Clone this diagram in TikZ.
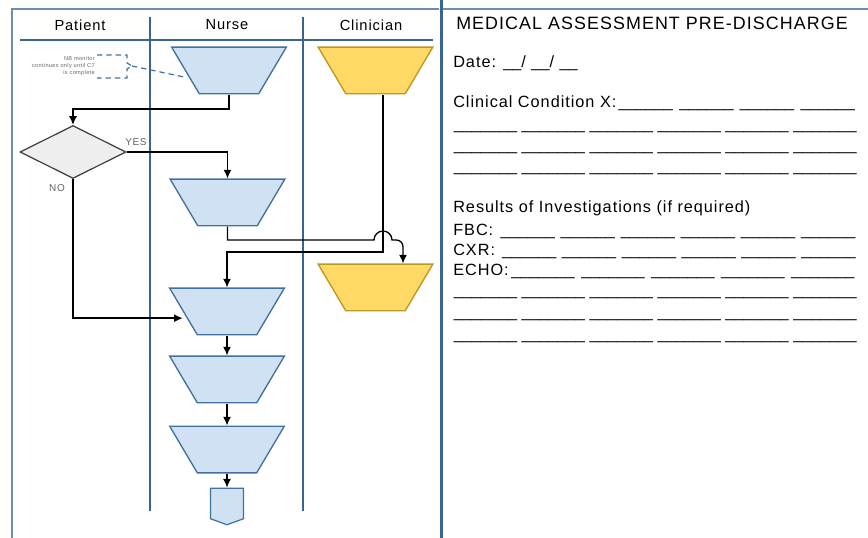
\documentclass[tikz,border=0pt]{standalone}
\usepackage{fontspec}
\setmainfont{Liberation Sans}[LetterSpace=6]
\newfontfamily\linefont{Liberation Sans}
\usetikzlibrary{shapes.geometric,shapes.symbols,arrows.meta}

\definecolor{nursefill}{RGB}{207,225,242}
\definecolor{nurseline}{RGB}{65,113,156}
\definecolor{clinfill}{RGB}{255,217,102}
\definecolor{clinline}{RGB}{191,150,30}
\definecolor{decfill}{RGB}{238,238,238}
\definecolor{decline}{RGB}{60,60,60}
\definecolor{laneblue}{RGB}{60,100,145}
\definecolor{framegray}{RGB}{110,140,175}
\definecolor{labelgray}{RGB}{100,100,100}

% blank lines of the form
\newcommand\us[1]{{\linefont\foreach\i in {1,...,#1}{\_}}}
\newcommand\formrow[2]{\makebox[306pt][l]{#1\xleaders\hbox{\us{#2}\hskip3pt}\hfill}}

\tikzset{
  nursestep/.style={trapezium, trapezium angle=65, shape border rotate=180,
    trapezium stretches=true, minimum width=86pt, minimum height=35pt,
    inner sep=1pt, draw=nurseline, fill=nursefill, line width=1pt},
  clinstep/.style={nursestep, draw=clinline, fill=clinfill},
  decision/.style={diamond, aspect=2, minimum width=79.5pt, minimum height=39.75pt,
    inner sep=1pt, draw=decline, fill=decfill, line width=0.9pt},
  offpage/.style={signal, signal to=south, signal pointer angle=140,
    minimum width=24.75pt, minimum height=23.25pt, inner sep=1pt,
    draw=nurseline, fill=nursefill, line width=0.9pt},
  flow/.style={draw=black, line width=1pt, -{Latex[length=6.5pt,width=6pt]}},
  lane/.style={draw=laneblue, line width=1.1pt},
  frame/.style={draw=framegray, line width=0.8pt},
  notelink/.style={draw=nurseline, line width=0.9pt, dash pattern=on 4pt off 3pt},
  formtext/.style={anchor=base west, inner sep=0pt, font=\fontsize{12.2}{14}\selectfont},
}

\begin{document}
\begin{tikzpicture}[x=0.75pt, y=-0.75pt]
    \useasboundingbox (0,0) rectangle (868,538);

    % Draw swimlanes
    \draw[frame] (12,545) -- (12,9) -- (439,9);
    \draw[frame] (442,9) -- (868,9);
    \draw[laneblue, line width=1.6pt] (441.5,0) -- (441.5,538);
    \draw[lane] (20,40) -- (433,40);
    \draw[lane] (150,17) -- (150,511);
    \draw[lane] (303,17) -- (303,511);

    \node[font=\fontsize{11}{13}\selectfont] (patienthd) at (80,25) {Patient};
    \node[font=\fontsize{11}{13}\selectfont] (nursehd) at (227,25) {Nurse};
    \node[font=\fontsize{11}{13}\selectfont] (clinhd) at (371,25) {Clinician};

    % Draw steps
    \node[nursestep] (n1) at (229,70.5) {};
    \node[clinstep] (c1) at (375.5,70.5) {};
    \node[decision] (dec) at (73,152) {};
    \node[nursestep] (n2) at (227.5,202.5) {};
    \node[clinstep] (c2) at (375.5,287.5) {};
    \node[nursestep] (n3) at (227,311.5) {};
    \node[nursestep] (n4) at (227,379.5) {};
    \node[nursestep] (n5) at (227,449.5) {};
    \node[offpage] (off) at (227,503.5) {};

    % Draw note
    \node[align=right, anchor=east, text=labelgray, inner sep=0pt,
      font=\fontsize{4.2}{5.4}\selectfont] (note) at (95,66)
      {NB monitor\\continues only until C7\\is complete};
    \coordinate (brace) at (132,66);
    \draw[notelink] (97,55) -- (127,55) -- (127,63) -- (brace) -- (127,69) -- (127,78) -- (97,78);
    \draw[notelink] (brace) -- ([yshift=-5pt]n1.west);

    % Draw connectors
    \coordinate (k1) at (73,109);
    \coordinate (k2) at (383,252);
    \coordinate (j1) at (374,240);
    \coordinate (j3) at (403,240);
    \draw[flow] (n1.south) |- (k1) -- (dec.north);
    \draw[flow] (dec.east) -| (n2.north);
    \draw[flow] (dec.south) |- ([yshift=-5pt]n3.west);
    \draw[flow] (n2.south) |- (j1) arc[start angle=180, end angle=360, radius=9]
      {[rounded corners=5pt] -- (j3) -- (c2.north -| j3)};
    \draw[flow] (c1.south -| k2) -- (k2) -| (n3.north);
    \draw[flow] (n3) -- (n4);
    \draw[flow] (n4) -- (n5);
    \draw[flow] (n5) -- (off);

    \node[text=labelgray, font=\fontsize{7.5}{9}\selectfont] (yes) at (136,142) {YES};
    \node[text=labelgray, font=\fontsize{7.5}{9}\selectfont] (no) at (57,188) {NO};

    % Draw form
    \node[anchor=base, inner sep=0pt, font=\fontsize{13.4}{16}\selectfont] (title) at (652,30)
      {MEDICAL ASSESSMENT PRE-DISCHARGE};
    \node[formtext] (date) at (453,68) {Date: \us{2}/ \us{2}/ \us{2}};
    \node[formtext] (cond) at (453,108) {\formrow{Clinical Condition X:}{6}};
    \node[formtext] (row1) at (453,130) {\formrow{}{7}};
    \node[formtext] (row2) at (453,151) {\formrow{}{7}};
    \node[formtext] (row3) at (453,172) {\formrow{}{7}};
    \node[formtext] (results) at (453,213) {Results of Investigations (if required)};
    \node[formtext] (fbc) at (453,236) {\formrow{FBC: }{6}};
    \node[formtext] (cxr) at (453,256) {\formrow{CXR: }{6}};
    \node[formtext] (echo) at (453,276) {\formrow{ECHO:}{7}};
    \node[formtext] (row4) at (453,296) {\formrow{}{7}};
    \node[formtext] (row5) at (453,318) {\formrow{}{7}};
    \node[formtext] (row6) at (453,340) {\formrow{}{7}};
\end{tikzpicture}
\end{document}
